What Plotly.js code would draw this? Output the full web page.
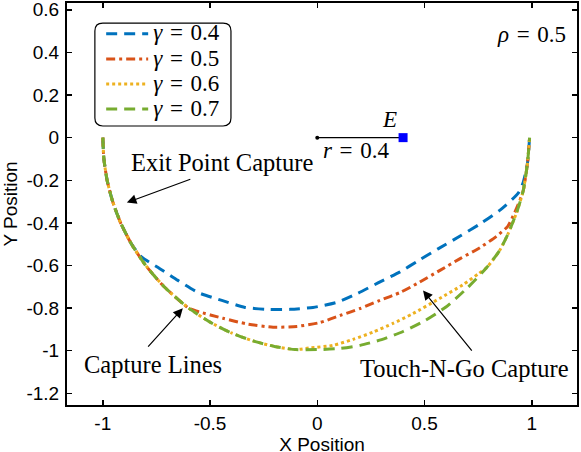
<!DOCTYPE html>
<html>
<head>
<meta charset="utf-8">
<script src="https://cdn.plot.ly/plotly-3.0.1.min.js"></script>
<style>
  html, body { margin: 0; padding: 0; background: #fff; overflow: hidden; }
  #chart { position: absolute; left: 0; top: 0; width: 581px; height: 458px; }
</style>
</head>
<body>
<div id="chart"></div>
<script>
// ---- data ----
const seriesNames = ['<i>γ</i>\u2004=\u20040.4', '<i>γ</i>\u2004=\u20040.5', '<i>γ</i>\u2004=\u20040.6', '<i>γ</i>\u2004=\u20040.7'];

const gamma04X = [-1, -0.995, -0.98, -0.954, -0.917, -0.866, -0.82, -0.734, -0.65, -0.556, -0.445, -0.337, -0.23, -0.127, -0.02, 0.092, 0.19, 0.283, 0.386, 0.47, 0.563, 0.666, 0.759, 0.852, 0.936, 0.96, 0.98, 0.99];
const gamma04Y = [0, -0.1, -0.2, -0.3, -0.4, -0.5, -0.56, -0.615, -0.67, -0.727, -0.764, -0.797, -0.806, -0.806, -0.797, -0.773, -0.73, -0.682, -0.63, -0.578, -0.522, -0.462, -0.405, -0.34, -0.262, -0.21, -0.12, 0];

const gamma05X = [-1, -0.995, -0.98, -0.954, -0.917, -0.866, -0.8, -0.714, -0.6, -0.56, -0.44, -0.33, -0.206, -0.095, 0.012, 0.106, 0.2, 0.292, 0.386, 0.465, 0.572, 0.666, 0.759, 0.837, 0.889, 0.912, 0.93, 0.96, 0.98, 0.99];
const gamma05Y = [0, -0.1, -0.2, -0.3, -0.4, -0.5, -0.6, -0.7, -0.8, -0.815, -0.848, -0.874, -0.89, -0.886, -0.868, -0.835, -0.802, -0.764, -0.727, -0.685, -0.623, -0.568, -0.516, -0.462, -0.415, -0.37, -0.33, -0.25, -0.12, 0];

const gamma06X = [-1, -0.995, -0.98, -0.954, -0.917, -0.866, -0.8, -0.714, -0.6, -0.5, -0.4, -0.3, -0.2, -0.1, -0.034, 0.073, 0.167, 0.26, 0.353, 0.446, 0.57, 0.68, 0.75, 0.79, 0.85, 0.89, 0.93, 0.96, 0.98, 0.99];
const gamma06Y = [0, -0.1, -0.2, -0.3, -0.4, -0.5, -0.6, -0.7, -0.8, -0.866, -0.917, -0.954, -0.98, -0.995, -0.987, -0.975, -0.947, -0.913, -0.872, -0.826, -0.755, -0.69, -0.64, -0.61, -0.53, -0.45, -0.35, -0.25, -0.12, 0];

const gamma07X = [-1, -0.995, -0.98, -0.954, -0.917, -0.866, -0.8, -0.714, -0.6, -0.5, -0.4, -0.3, -0.2, -0.1, 0, 0.1, 0.2, 0.3, 0.4, 0.5, 0.6, 0.7, 0.79, 0.85, 0.89, 0.93, 0.96, 0.98, 0.99];
const gamma07Y = [0, -0.1, -0.2, -0.3, -0.4, -0.5, -0.6, -0.7, -0.8, -0.866, -0.917, -0.954, -0.98, -0.995, -0.995, -0.99, -0.975, -0.948, -0.91, -0.86, -0.795, -0.705, -0.61, -0.53, -0.45, -0.35, -0.25, -0.12, 0];

const radiusX = [0, 0.4];
const radiusY = [0, 0];

const xTickVals = [-1, -0.5, 0, 0.5, 1];
const xTickText = ['-1', '-0.5', '0', '0.5', '1'];
const yTickVals = [-1.2, -1, -0.8, -0.6, -0.4, -0.2, 0, 0.2, 0.4, 0.6];
const yTickText = ['-1.2', '-1', '-0.8', '-0.6', '-0.4', '-0.2', '0', '0.2', '0.4', '0.6'];

// ---- styling ----
const colors = ['#0072BD', '#D95319', '#EDB120', '#77AC30'];
const dashes = ['11px,7px', '9px,4px,3px,4px', '3px,3px', '11px,7px'];
const xs = [gamma04X, gamma05X, gamma06X, gamma07X];
const ys = [gamma04Y, gamma05Y, gamma06Y, gamma07Y];

const serif = 'Liberation Serif, Times New Roman, serif';
const sans = 'Liberation Sans, Arial, sans-serif';

const traces = [];
for (let i = 0; i < 4; i++) {
  traces.push({
    type: 'scatter', mode: 'lines', x: xs[i], y: ys[i],
    name: '<span style="font-size:23px">' + seriesNames[i] + '</span>',
    line: { color: colors[i], width: 3, dash: dashes[i], shape: 'spline', smoothing: 0.6 }
  });
}
traces.push({
  type: 'scatter', mode: 'lines', x: radiusX, y: radiusY, showlegend: false,
  line: { color: '#000', width: 1.2 }
});
traces.push({
  type: 'scatter', mode: 'markers', x: [radiusX[0]], y: [radiusY[0]], showlegend: false,
  marker: { color: '#000', size: 4, symbol: 'circle' }
});
traces.push({
  type: 'scatter', mode: 'markers', x: [radiusX[1]], y: [radiusY[1]], showlegend: false,
  marker: { color: '#0000FF', size: 9, symbol: 'square' }
});

function arrow(tipX, tipY, tailX, tailY) {
  return { x: tipX, y: tipY, ax: tailX, ay: tailY, xref: 'x', yref: 'y', axref: 'x', ayref: 'y',
    text: '', showarrow: true, arrowhead: 2, arrowsize: 1.6, arrowwidth: 1.2, arrowcolor: '#000',
    standoff: 0, startstandoff: 0 };
}
function label(x, y, text, size) {
  return { x: x, y: y, xref: 'x', yref: 'y', text: text, showarrow: false,
    font: { family: serif, size: size, color: '#000' }, xanchor: 'center', yanchor: 'middle' };
}

const r = 0.037;
const bx0 = -1.037, bx1 = -0.4025, by0 = 0.0547, by1 = 0.538;
const boxPath = 'M' + (bx0 + r) + ',' + by1 + ' L' + (bx1 - r) + ',' + by1 +
  ' Q' + bx1 + ',' + by1 + ' ' + bx1 + ',' + (by1 - r) +
  ' L' + bx1 + ',' + (by0 + r) + ' Q' + bx1 + ',' + by0 + ' ' + (bx1 - r) + ',' + by0 +
  ' L' + (bx0 + r) + ',' + by0 + ' Q' + bx0 + ',' + by0 + ' ' + bx0 + ',' + (by0 + r) +
  ' L' + bx0 + ',' + (by1 - r) + ' Q' + bx0 + ',' + by1 + ' ' + (bx0 + r) + ',' + by1 + ' Z';

const layout = {
  width: 581, height: 458,
  margin: { l: 67, r: 4, t: 3, b: 53 },
  paper_bgcolor: '#fff', plot_bgcolor: '#fff',
  showlegend: true,
  legend: {
    x: 0.067, y: 0.967, xanchor: 'left', yanchor: 'top',
    bgcolor: 'rgba(0,0,0,0)', borderwidth: 0,
    font: { family: serif, size: 17, color: '#000' },
    itemwidth: 42, tracegroupgap: 0
  },
  xaxis: {
    range: [-1.167, 1.211], tickvals: xTickVals, ticktext: xTickText,
    showline: true, linecolor: '#000', linewidth: 2, mirror: 'allticks',
    ticks: 'inside', ticklen: 5, tickwidth: 1.5, tickcolor: '#000',
    showgrid: false, zeroline: false, ticklabeloverflow: 'allow',
    tickfont: { family: sans, size: 19, color: '#000' },
    title: { text: 'X Position', font: { family: sans, size: 19, color: '#000' }, standoff: 5 }
  },
  yaxis: {
    range: [-1.255, 0.632], tickvals: yTickVals, ticktext: yTickText,
    showline: true, linecolor: '#000', linewidth: 2, mirror: 'allticks',
    ticks: 'inside', ticklen: 5, tickwidth: 1.5, tickcolor: '#000',
    showgrid: false, zeroline: false, ticklabeloverflow: 'allow', ticklabelstandoff: 2,
    tickfont: { family: sans, size: 19, color: '#000' },
    title: { text: 'Y Position', font: { family: sans, size: 19, color: '#000' }, standoff: 5 }
  },
  shapes: [{ type: 'path', xref: 'x', yref: 'y', path: boxPath,
    line: { color: '#000', width: 1.2 }, fillcolor: 'rgba(0,0,0,0)', layer: 'below' }],
  annotations: [
    label(-0.44, -0.118, 'Exit Point Capture', 24.5),
    arrow(-0.888, -0.305, -0.585, -0.193),
    label(-0.766, -1.063, 'Capture Lines', 24.5),
    arrow(-0.627, -0.801, -0.795, -0.988),
    label(0.688, -1.082, 'Touch-N-Go Capture', 24.5),
    arrow(0.493, -0.717, 0.726, -1.007),
    label(0.339, 0.083, '<i>E</i>', 23),
    label(0.185, -0.062, '<i>r</i>\u2004=\u20040.4', 23),
    label(1.0, 0.485, '<i>ρ</i>\u2004=\u20040.5', 23)
  ]
};

Plotly.newPlot('chart', traces, layout, { displayModeBar: false, staticPlot: true });
</script>
</body>
</html>
